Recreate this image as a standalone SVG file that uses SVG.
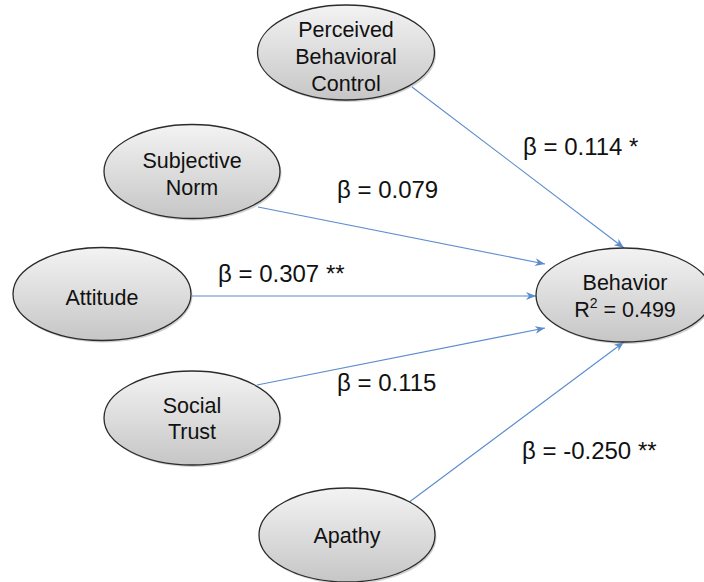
<svg xmlns="http://www.w3.org/2000/svg" width="704" height="582" viewBox="0 0 704 582">
<style>
  .node ellipse.body { fill: url(#g); stroke: #2b2b2b; stroke-width: 1.3; }
  .node ellipse.shadow { fill: #9a9a9a; opacity: 0.45; }
  .node text { font-family: "Liberation Sans", Arial, sans-serif; font-size: 21.5px; fill: #111; text-anchor: middle; }
  .edge { stroke: #5b8ccc; stroke-width: 1.1; fill: none; marker-end: url(#arr); }
  .lbl { font-family: "Liberation Sans", Arial, sans-serif; font-size: 24px; fill: #111; }
</style>
<defs>
  <linearGradient id="g" x1="0" y1="0" x2="0" y2="1">
    <stop offset="0" stop-color="#f3f3f3"/>
    <stop offset="1" stop-color="#c6c6c6"/>
  </linearGradient>
  <marker id="arr" viewBox="0 0 10 8" refX="10" refY="4" markerWidth="10" markerHeight="8" markerUnits="userSpaceOnUse" orient="auto">
    <path d="M0,0 L10,4 L0,8 L3,4 Z" fill="#5b8ccc"/>
  </marker>
</defs>
<rect width="704" height="582" fill="#fff"/>
<g id="connectors">
  <line class="edge" x1="412" y1="87" x2="624" y2="248"/>
  <line class="edge" x1="258" y1="207" x2="545" y2="264"/>
  <line class="edge" x1="192" y1="296" x2="536" y2="296"/>
  <line class="edge" x1="257" y1="385" x2="545" y2="328"/>
  <line class="edge" x1="408" y1="503" x2="624" y2="342"/>
</g>
<g id="pbc" class="node">
  <ellipse class="shadow" cx="347.5" cy="54.5" rx="88.5" ry="47.5"/>
  <ellipse class="body" cx="346" cy="52.5" rx="88.5" ry="47.5"/>
  <text x="346" y="37">Perceived</text>
  <text x="346" y="64">Behavioral</text>
  <text x="346" y="91">Control</text>
</g>
<g id="subjective-norm" class="node">
  <ellipse class="shadow" cx="193.5" cy="173.5" rx="88" ry="47"/>
  <ellipse class="body" cx="192" cy="171.5" rx="88" ry="47"/>
  <text x="192" y="168">Subjective</text>
  <text x="192" y="195">Norm</text>
</g>
<g id="attitude" class="node">
  <ellipse class="shadow" cx="103.5" cy="296" rx="89" ry="46.5"/>
  <ellipse class="body" cx="102" cy="294" rx="89" ry="46.5"/>
  <text x="102" y="305">Attitude</text>
</g>
<g id="social-trust" class="node">
  <ellipse class="shadow" cx="193.5" cy="420" rx="88" ry="47"/>
  <ellipse class="body" cx="192" cy="418" rx="88" ry="47"/>
  <text x="192" y="413">Social</text>
  <text x="192" y="439">Trust</text>
</g>
<g id="apathy" class="node">
  <ellipse class="shadow" cx="348.5" cy="537" rx="88" ry="47"/>
  <ellipse class="body" cx="347" cy="535" rx="88" ry="47"/>
  <text x="347" y="543">Apathy</text>
</g>
<g id="behavior" class="node">
  <ellipse class="shadow" cx="625.5" cy="297" rx="88" ry="47"/>
  <ellipse class="body" cx="624" cy="295" rx="88" ry="47"/>
  <text x="625" y="290">Behavior</text>
  <text x="625" y="317">R<tspan font-size="14" dy="-9">2</tspan><tspan dy="9"> = 0.499</tspan></text>
</g>
<g id="labels">
  <text class="lbl" x="523" y="155">β = 0.114 *</text>
  <text class="lbl" x="337" y="198">β = 0.079</text>
  <text class="lbl" x="218" y="282">β = 0.307 **</text>
  <text class="lbl" x="337" y="391">β = 0.115</text>
  <text class="lbl" x="522" y="459">β = -0.250 **</text>
</g>
</svg>
